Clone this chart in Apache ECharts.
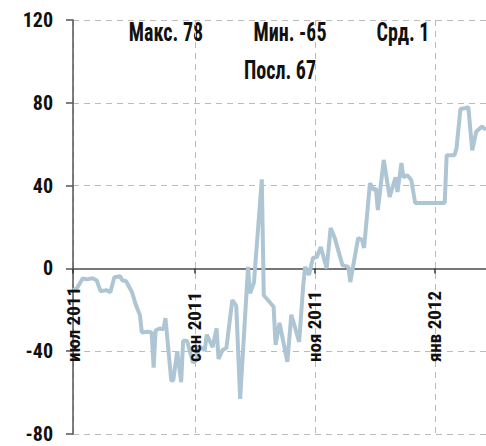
<!DOCTYPE html>
<html>
<head>
<meta charset="utf-8">
<script src="https://cdn.jsdelivr.net/npm/echarts@6/dist/echarts.min.js"></script>
<style>
html,body{margin:0;padding:0;background:#fff;}
#chart{width:486px;height:446px;}
</style>
</head>
<body>
<div id="chart"></div>
<script>
var dates = [
 '2011-07-01','2011-07-03','2011-07-06','2011-07-08','2011-07-11','2011-07-13','2011-07-15','2011-07-18','2011-07-20','2011-07-22',
 '2011-07-25','2011-07-26','2011-07-28','2011-07-31','2011-08-02','2011-08-04','2011-08-05','2011-08-08','2011-08-10','2011-08-11',
 '2011-08-12','2011-08-14','2011-08-16','2011-08-17','2011-08-20','2011-08-21','2011-08-23','2011-08-25','2011-08-26','2011-08-28',
 '2011-08-31','2011-09-02','2011-09-03','2011-09-06','2011-09-07','2011-09-10','2011-09-12','2011-09-13','2011-09-15','2011-09-17',
 '2011-09-20','2011-09-22','2011-09-24','2011-09-28','2011-09-29','2011-10-01','2011-10-05','2011-10-06','2011-10-11','2011-10-12',
 '2011-10-14','2011-10-18','2011-10-20','2011-10-24','2011-10-26','2011-10-27','2011-10-28','2011-10-29','2011-10-31','2011-11-02',
 '2011-11-04','2011-11-07','2011-11-09','2011-11-11','2011-11-15','2011-11-18','2011-11-19','2011-11-23','2011-11-25','2011-11-26',
 '2011-11-29','2011-12-01','2011-12-02','2011-12-03','2011-12-06','2011-12-09','2011-12-12','2011-12-13','2011-12-15','2011-12-16',
 '2011-12-18','2011-12-20','2011-12-22','2012-01-06','2012-01-07','2012-01-11','2012-01-12','2012-01-14','2012-01-17','2012-01-18',
 '2012-01-20','2012-01-22','2012-01-25','2012-01-27'
];
var values = [
 -10.5,-9.6,-4.8,-5.3,-4.8,-5.7,-11,-10.5,-11.5,-4.3,
 -3.8,-5.7,-6.2,-11.5,-17.7,-22.5,-31,-30.6,-31,-48,
 -30,-29,-29.4,-24,-54.4,-54,-40,-55,-35,-35,
 -45.6,-44,-37.5,-39.5,-32,-38,-29,-43.7,-39.5,-38.4,
 -15.3,-18,-63,0.7,-12,-7,43,-13,-18.5,-37,
 -26.3,-45.1,-22.4,-35.5,-9,0.7,-0.8,-3.2,5,5.5,
 10.3,0,19.5,15,1.6,0.7,-6.6,14.7,13.7,9.9,
 41.2,37.8,38.8,28.2,52.4,34.5,44,36.9,50.9,44,
 45,42.7,31.6,31.6,54.7,54.7,58,77,77.5,78,
 57,66,68.5,67
];
var tickDates = ['2011-07-01','2011-09-01','2011-11-01','2012-01-01'];
var tickLabels = ['июл 2011','сен 2011','ноя 2011','янв 2012'];
var statLabels = ['Макс. 78','Мин. -65','Срд. 1','Посл. 67'];

function ts(s){var p=s.split('-');return Date.UTC(+p[0],+p[1]-1,+p[2]);}
var tickTs = tickDates.map(ts);
var seriesData = dates.map(function(d,i){return [ts(d), values[i]];});
var X_MIN = ts('2011-07-01'), X_MAX = ts('2012-01-27');

var FONT = '"Liberation Sans Narrow","Roboto Condensed","Noto Sans Condensed","DejaVu Sans Condensed",sans-serif';
function statText(i,x,y){
  return {type:'text',x:x,y:y,scaleX:0.77,style:{text:statLabels[i],align:'center',verticalAlign:'middle',textAlign:'center',textVerticalAlign:'middle',fontSize:26,fontWeight:'bold',fontFamily:FONT,fill:'#111'}};
}
function fmt(v){for(var i=0;i<tickTs.length;i++){if(Math.abs(tickTs[i]-v)<1000)return tickLabels[i];}return '';}
var chart = echarts.init(document.getElementById('chart'), null, {renderer:'svg'});
chart.setOption({
  animation:false,
  backgroundColor:'#fff',
  grid:{left:73,right:0,top:20,bottom:12,containLabel:false,outerBoundsMode:'none'},
  graphic:[statText(0,166,32),statText(1,290,32),statText(2,403,32),statText(3,280,70)],
  xAxis:[{
    type:'value',min:X_MIN,max:X_MAX,
    axisLine:{onZero:true,lineStyle:{color:'#777',width:2}},
    axisTick:{show:true,length:5,customValues:tickTs,lineStyle:{color:'#333',width:1.5}},
    axisLabel:{show:false,customValues:tickTs},
    splitLine:{show:true,lineStyle:{color:'#bbb',width:1,type:[6,5]}}
  },{
    type:'value',min:X_MIN,max:X_MAX,position:'bottom',z:10,
    axisLine:{show:false,onZero:false},
    axisTick:{show:false,customValues:tickTs},
    splitLine:{show:false},
    axisLabel:{customValues:tickTs,rotate:90,inside:true,margin:72,fontSize:19,fontWeight:'bold',fontFamily:FONT,color:'#111',formatter:fmt}
  }],
  yAxis:{
    type:'value',min:-80,max:120,interval:40,
    axisLine:{show:true,lineStyle:{color:'#555',width:1.5}},
    axisTick:{show:true,length:7,lineStyle:{color:'#555',width:1.5}},
    axisLabel:{fontSize:20,fontWeight:'bold',fontFamily:FONT,color:'#111',margin:20},
    splitLine:{show:true,lineStyle:{color:'#bbb',width:1,type:[6,5]}}
  },
  series:[{
    type:'line',data:seriesData,xAxisIndex:0,showSymbol:false,symbol:'none',
    lineStyle:{color:'#aec6d4',width:4},
    itemStyle:{color:'#aec6d4'}
  }]
});
</script>
</body>
</html>
